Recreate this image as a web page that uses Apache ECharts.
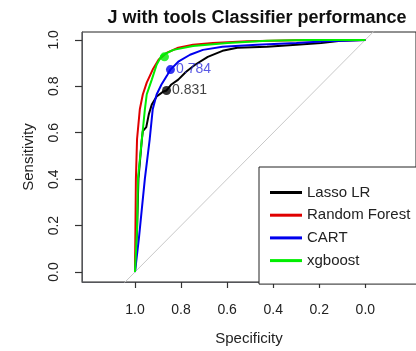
<!DOCTYPE html>
<html>
<head>
<meta charset="utf-8">
<script src="https://cdn.jsdelivr.net/npm/echarts@6/dist/echarts.min.js"></script>
<style>html,body{margin:0;padding:0;background:#fff;}#c{width:416px;height:351px;}</style>
</head>
<body>
<div id="c"></div>
<script>
const seriesNames = ['Lasso LR', 'Random Forest', 'CART', 'xgboost'];
const seriesColors = ['#000000', '#e00000', '#0000ee', '#00ee00'];

const lassoSpec = [1.000, 0.991, 0.985, 0.970, 0.966, 0.951, 0.940, 0.927, 0.906, 0.876, 0.863, 0.842, 0.812, 0.778, 0.739, 0.684, 0.620, 0.556, 0.427, 0.299, 0.192, 0.107, 0.000];
const lassoSens = [0.000, 0.188, 0.402, 0.573, 0.607, 0.624, 0.679, 0.722, 0.756, 0.778, 0.782, 0.808, 0.829, 0.863, 0.893, 0.927, 0.953, 0.966, 0.970, 0.979, 0.987, 0.996, 1.000];

const rfSpec = [1.000, 0.998, 0.996, 0.991, 0.979, 0.966, 0.949, 0.923, 0.897, 0.863, 0.812, 0.748, 0.662, 0.513, 0.299, 0.000];
const rfSens = [0.000, 0.188, 0.402, 0.573, 0.701, 0.765, 0.816, 0.872, 0.915, 0.944, 0.966, 0.979, 0.987, 0.994, 0.998, 1.000];

const cartSpec = [1.000, 0.983, 0.970, 0.957, 0.936, 0.923, 0.906, 0.885, 0.859, 0.846, 0.812, 0.761, 0.705, 0.620, 0.470, 0.299, 0.171, 0.000];
const cartSens = [0.000, 0.145, 0.274, 0.402, 0.573, 0.701, 0.765, 0.808, 0.850, 0.872, 0.906, 0.936, 0.957, 0.970, 0.979, 0.987, 0.994, 1.000];

const xgbSpec = [1.000, 0.991, 0.987, 0.970, 0.957, 0.949, 0.927, 0.906, 0.885, 0.833, 0.748, 0.598, 0.427, 0.256, 0.000];
const xgbSens = [0.000, 0.188, 0.402, 0.573, 0.701, 0.765, 0.829, 0.893, 0.932, 0.957, 0.974, 0.987, 0.996, 1.000, 1.000];

// best thresholds: [specificity, sensitivity, label]
const lassoThr = [0.863, 0.782, '0.831'];
const cartThr = [0.846, 0.872, '0.784'];
const xgbThr = [0.872, 0.927, ''];

const tickValues = [0, 0.2, 0.4, 0.6, 0.8, 1.0];

function pairs(a, b) { return a.map((v, i) => [v, b[i]]); }

const chart = echarts.init(document.getElementById('c'));
const txt = '#222';
const fontFam = 'Liberation Sans, Arial, sans-serif';

function curve(name, color, spec, sens) {
  return {
    name: name, type: 'line', data: pairs(spec, sens), showSymbol: false, symbol: 'none',
    lineStyle: {color: color, width: 2}, itemStyle: {color: color}, z: 3
  };
}
function thr(color, t, labelColor) {
  return {
    type: 'scatter', data: [[t[0], t[1]]], symbolSize: 9, itemStyle: {color: color}, z: 5,
    label: {show: !!t[2], formatter: t[2], position: 'right', distance: 1, color: labelColor, fontSize: 14, fontFamily: fontFam}
  };
}
const tick = (len) => ({show: true, length: len, customValues: tickValues, lineStyle: {color: '#333', width: 1.2}});

chart.setOption({
  animation: false,
  title: {
    text: 'J with tools Classifier performance', left: 252, top: 4, textAlign: 'center',
    textStyle: {fontSize: 18, fontWeight: 'bold', color: '#111', fontFamily: fontFam}
  },
  grid: {left: 82, top: 32, right: -5, bottom: 67, show: true, borderColor: '#222'},
  xAxis: {
    type: 'value', inverse: true, min: -0.22, max: 1.23,
    name: 'Specificity', nameLocation: 'middle', nameGap: 49,
    nameTextStyle: {fontSize: 15, color: txt, fontFamily: fontFam},
    axisLine: {show: true, onZero: false},
    axisTick: tick(6),
    axisLabel: {customValues: tickValues, formatter: v => v.toFixed(1), margin: 21, fontSize: 14, color: txt, fontFamily: fontFam},
    splitLine: {lineStyle: {opacity: 0}}
  },
  yAxis: {
    type: 'value', min: -0.043, max: 1.034,
    name: 'Sensitivity', nameLocation: 'middle', nameGap: 46,
    nameTextStyle: {fontSize: 15, color: txt, fontFamily: fontFam},
    axisLine: {show: true, onZero: false},
    axisTick: tick(7),
    axisLabel: {customValues: tickValues, formatter: v => v.toFixed(1), rotate: 90, margin: 21, fontSize: 14, color: txt, fontFamily: fontFam},
    splitLine: {lineStyle: {opacity: 0}}
  },
  legend: {
    data: seriesNames, orient: 'vertical', left: 259, top: 167,
    padding: [18, 60, 16, 11], itemGap: 7.7, itemWidth: 32, itemHeight: 3, icon: 'rect',
    borderColor: '#222', borderWidth: 1, backgroundColor: '#fff',
    textStyle: {fontSize: 15, color: txt, fontFamily: fontFam, lineHeight: 15}
  },
  series: [
    {
      type: 'line', data: [[1.4, -0.4], [-0.4, 1.4]], showSymbol: false, symbol: 'none', silent: true,
      lineStyle: {color: '#c8c8c8', width: 1}, z: 1
    },
    curve(seriesNames[0], seriesColors[0], lassoSpec, lassoSens),
    curve(seriesNames[1], seriesColors[1], rfSpec, rfSens),
    curve(seriesNames[2], seriesColors[2], cartSpec, cartSens),
    curve(seriesNames[3], seriesColors[3], xgbSpec, xgbSens),
    thr('#000', lassoThr, '#111'),
    thr('#0000ee', cartThr, '#3030dd'),
    thr('#00ee00', xgbThr, '#00cc00')
  ]
});
</script>
</body>
</html>
